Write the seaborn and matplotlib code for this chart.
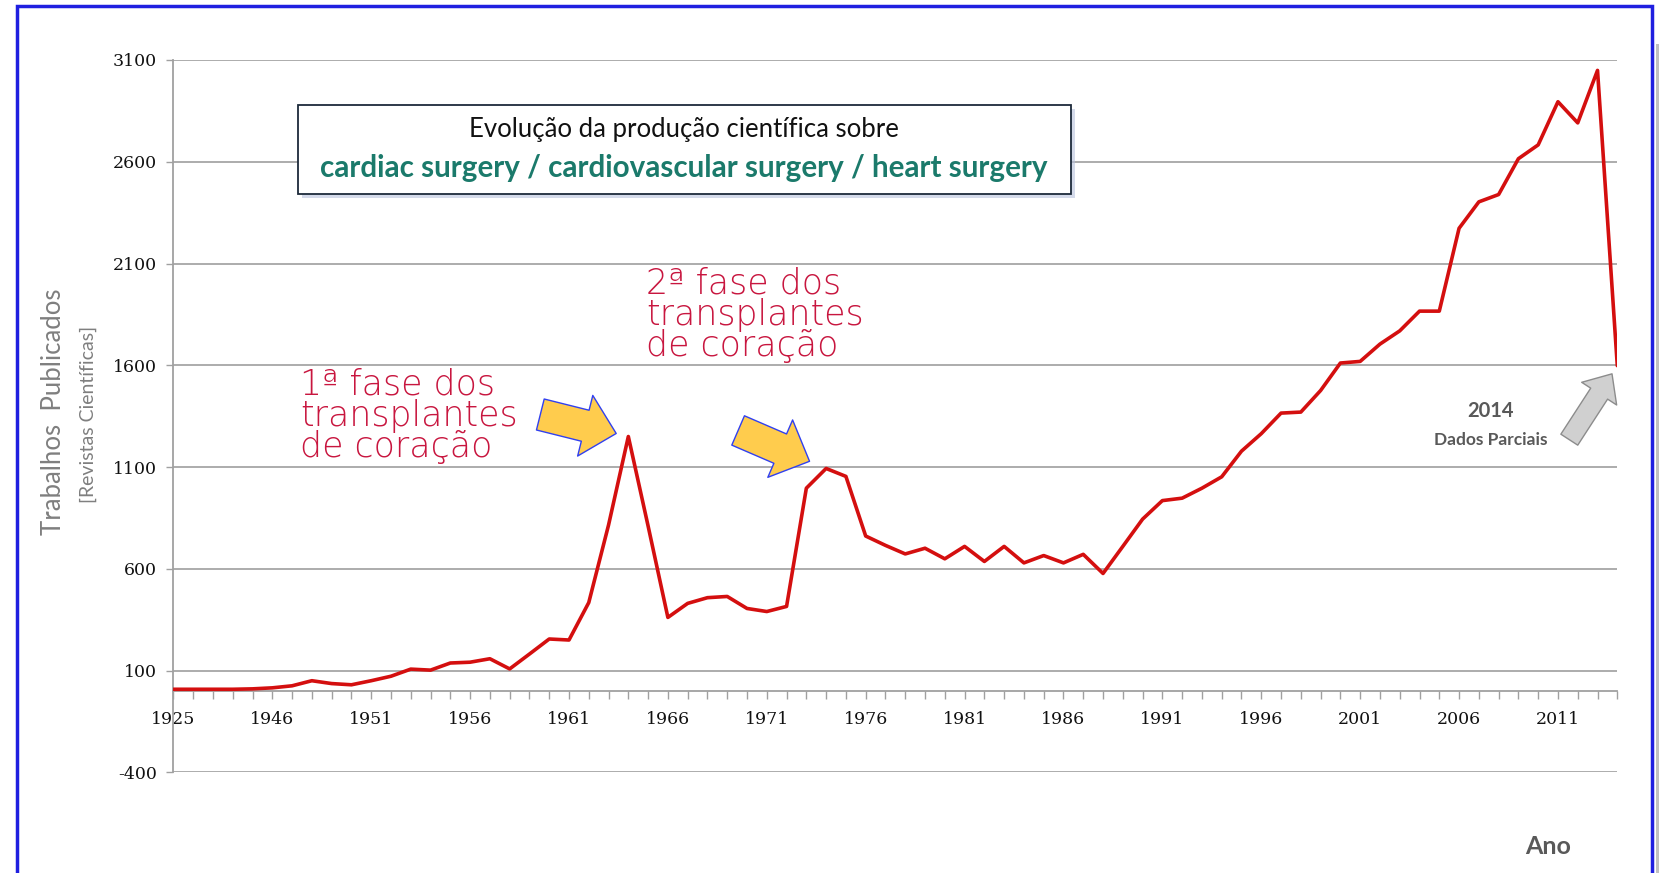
import matplotlib
matplotlib.use("Agg")
import matplotlib.pyplot as plt
import matplotlib.patches as mpatches
import seaborn as sns
import pandas as pd

# --- DATA ---
years = [
    "1925", "1942", "1943", "1944", "1945",
    "1946", "1947", "1948", "1949", "1950",
    "1951", "1952", "1953", "1954", "1955",
    "1956", "1957", "1958", "1959", "1960",
    "1961", "1962", "1963", "1964", "1965",
    "1966", "1967", "1968", "1969", "1970",
    "1971", "1972", "1973", "1974", "1975",
    "1976", "1977", "1978", "1979", "1980",
    "1981", "1982", "1983", "1984", "1985",
    "1986", "1987", "1988", "1989", "1990",
    "1991", "1992", "1993", "1994", "1995",
    "1996", "1997", "1998", "1999", "2000",
    "2001", "2002", "2003", "2004", "2005",
    "2006", "2007", "2008", "2009", "2010",
    "2011", "2012", "2013", "2014",
]
papers = [
    8, 8, 8, 8, 10,
    15, 25, 50, 36, 30,
    50, 72, 107, 102, 137,
    141, 158, 108, 181, 255,
    250, 434, 815, 1250, 810,
    361, 430, 458, 464, 405,
    390, 415, 996, 1093, 1054,
    761, 715, 673, 701, 649,
    710, 636, 710, 629, 665,
    629, 671, 577, 710, 844,
    935, 947, 996, 1052, 1178,
    1264, 1365, 1370, 1476, 1611,
    1619, 1704, 1769, 1866, 1866,
    2273, 2403, 2439, 2615, 2683,
    2895, 2791, 3049, 1598,
]
y_ticks = [-400, 100, 600, 1100, 1600, 2100, 2600, 3100]
phase1_year, phase2_year = "1964", "1974"

# --- FIGURE ---
W, H = 1668, 873
sns.set_theme(style="white")
plt.rcParams['font.family'] = ['Lato', 'DejaVu Sans']
plt.rcParams['axes.unicode_minus'] = False

fig = plt.figure(figsize=(W / 100, H / 100), dpi=100)
fig.patch.set_facecolor("white")


def fx(px):
    return px / W


def fy(py):
    return 1 - py / H


ax = fig.add_axes([fx(173.4), fy(772.3), fx(1617.3 - 173.4), (772.3 - 60) / H])

df = pd.DataFrame({"Ano": years, "Trabalhos": papers})
sns.lineplot(data=df, x="Ano", y="Trabalhos", ax=ax, color="#d40f0f",
             linewidth=2.6, sort=False, zorder=5)

n = len(years)
ax.set_xlim(0, n - 1)
ax.set_ylim(y_ticks[0], y_ticks[-1])
ax.set_yticks(y_ticks)
ax.set_xticks(range(0, n, 5))
ax.set_xticklabels(years[::5])
ax.set_xticks(range(n), minor=True)
ax.set_xlabel("")
ax.set_ylabel("")

# Excel-like axes: horizontal axis crosses at zero
ax.spines["bottom"].set_position(("data", 0))
ax.spines["top"].set_visible(False)
ax.spines["right"].set_visible(False)
for s in ("bottom", "left"):
    ax.spines[s].set_color("#a0a0a0")
    ax.spines[s].set_linewidth(1.3)
ax.yaxis.grid(True, color="#a6a6a6", linewidth=1.3)
ax.set_axisbelow(True)

ax.tick_params(axis="x", which="both", bottom=True, direction="out",
               length=6, width=1, color="#a0a0a0")
ax.tick_params(axis="x", which="major", pad=8.5, labelsize=12.5, labelcolor="#111111")
ax.tick_params(axis="y", left=True, direction="out", length=5, width=1,
               color="#a0a0a0", pad=7, labelsize=12.5, labelcolor="#111111")
for lab in ax.get_xticklabels() + ax.get_yticklabels():
    lab.set_fontfamily("DejaVu Serif")

# --- annotations ---
crimson = "#c8163f"
i1 = years.index(phase1_year)
i2 = years.index(phase2_year)
note_style = dict(color=crimson, fontsize=25, ha="left", va="top", linespacing=0.9,
                  family=["DejaVu Sans"], fontweight="light", zorder=6)
ax.text(6.4, 1590, "1ª fase dos\ntransplantes\nde coração", **note_style)
ax.text(23.9, 2085, "2ª fase dos\ntransplantes\nde coração", **note_style)

yellow_arrow = dict(arrowstyle="simple,head_length=2.3,head_width=4.5,tail_width=2.3",
                    fc="#ffcc4d", ec="#3040f0", lw=1, shrinkA=0, mutation_scale=10)
ax.annotate("", xy=(i1, papers[i1]), xytext=(-88, 22), textcoords="offset pixels",
            arrowprops=dict(yellow_arrow, shrinkB=9), zorder=7)
ax.annotate("", xy=(i2, papers[i2]), xytext=(-88, 38), textcoords="offset pixels",
            arrowprops=dict(yellow_arrow, shrinkB=13), zorder=7)

ax.annotate("", xy=(n - 1, papers[-1]), xytext=(-48, -74), textcoords="offset pixels",
            arrowprops=dict(arrowstyle="simple,head_length=1.7,head_width=3.0,tail_width=1.45",
                            fc="#d0d0d0", ec="#8c8c8c", lw=1, shrinkA=0, shrinkB=7,
                            mutation_scale=10), zorder=7)
fig.text(fx(1491), fy(411), "2014", color="#595959", fontsize=14.5,
         fontweight="bold", ha="center", va="center")
fig.text(fx(1491), fy(440), "Dados Parciais", color="#595959", fontsize=12.5,
         fontweight="bold", ha="center", va="center")

# --- axis titles ---
fig.text(fx(54), fy(412), "Trabalhos  Publicados", color="#7f7f7f", fontsize=18.5,
         rotation=90, ha="center", va="center")
fig.text(fx(88.5), fy(414), "[Revistas Científicas]", color="#7f7f7f", fontsize=14,
         rotation=90, ha="center", va="center")
fig.text(fx(1548), fy(847), "Ano", color="#595959", fontsize=18, fontweight="bold",
         ha="center", va="center")

# --- title box ---
fig.patches.append(mpatches.Rectangle((fx(302), fy(198)), fx(1071 - 298), (194 - 105) / H,
                                      transform=fig.transFigure, facecolor="#b8c2dc",
                                      edgecolor="none", alpha=0.6, zorder=1))
fig.patches.append(mpatches.Rectangle((fx(298), fy(194)), fx(1071 - 298), (194 - 105) / H,
                                      transform=fig.transFigure, facecolor="white",
                                      edgecolor="#1d2a3a", linewidth=1.3, zorder=2))
fig.text(fx(684), fy(130), "Evolução da produção científica sobre", color="#111111",
         fontsize=18.5, ha="center", va="center", zorder=3)
fig.text(fx(684), fy(168), "cardiac surgery / cardiovascular surgery / heart surgery",
         color="#1b7a6b", fontsize=21.3, fontweight="bold", ha="center", va="center",
         zorder=3)

# --- blue frame ---
fig.patches.append(mpatches.Rectangle((fx(1656), -0.05), fx(3), 1.0, transform=fig.transFigure,
                                      facecolor="#c0c0c0", edgecolor="none", zorder=0))
fig.patches.append(mpatches.Rectangle((fx(17), -0.05), fx(1652 - 17), fy(6) + 0.05,
                                      transform=fig.transFigure, fill=False,
                                      edgecolor="#1f1fe0", linewidth=2.5, zorder=10))

fig.savefig("out.png", dpi=100, facecolor="white")
